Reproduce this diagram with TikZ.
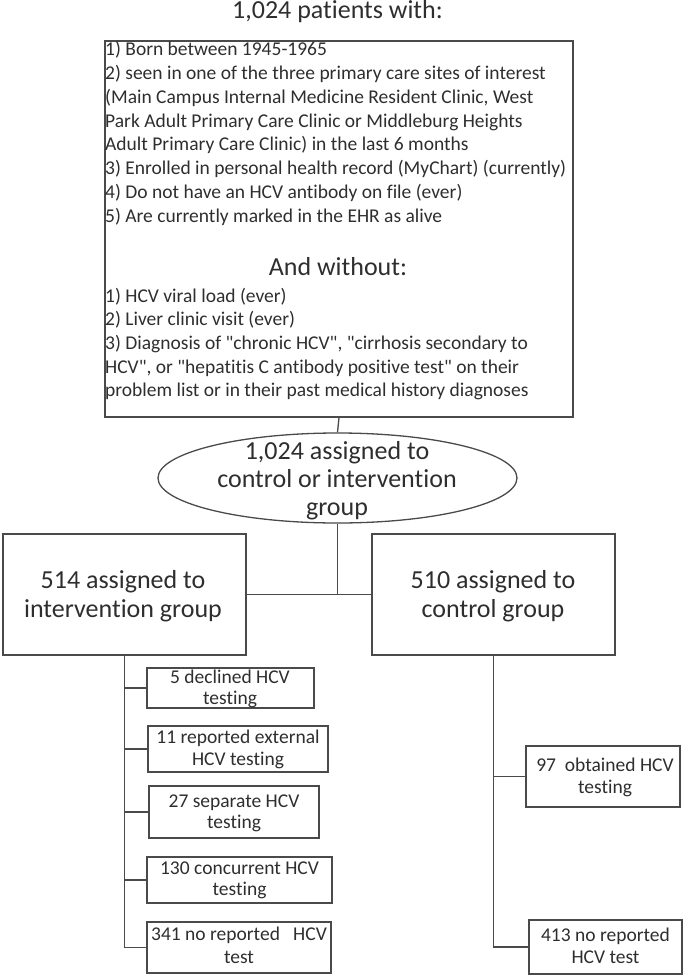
\documentclass[tikz,border=0pt]{standalone}
\usepackage{fontspec}
\setmainfont{Carlito}[Ligatures={TeXOff,NoCommon}]
\usetikzlibrary{shapes.geometric}
\definecolor{ln}{HTML}{4A4A4A}
\definecolor{tx}{HTML}{2E2E2E}
\begin{document}
\begin{tikzpicture}[x=1pt,y=-1pt,
  frame/.style={draw=ln, line width=1.3pt, rectangle, inner sep=0pt},
  oval/.style={draw=ln, line width=1.3pt, ellipse, inner sep=0pt},
  conn/.style={draw=ln, line width=1.3pt},
  body/.style={text=tx, inner sep=0pt, font=\fontsize{19.5}{23.9}\selectfont},
  big/.style={text=tx, inner sep=0pt, font=\fontsize{26}{30}\selectfont},
]
\useasboundingbox (0,0) rectangle (685,977);

% title
\node[big, anchor=base] (title) at (337.5,18) {1,024 patients with:};

% main box
\node[frame, minimum width=468pt, minimum height=376pt] (main) at (339,229) {};
\node[body, anchor=base west] (m1) at (105,55) {1) Born between 1945-1965};
\node[body, anchor=base west] (m2) at (105,79) {2) seen in one of the three primary care sites of interest};
\node[body, anchor=base west] (m3) at (105,103) {(Main Campus Internal Medicine Resident Clinic, West};
\node[body, anchor=base west] (m4) at (105,127) {Park Adult Primary Care Clinic or Middleburg Heights};
\node[body, anchor=base west] (m5) at (105,150) {Adult Primary Care Clinic) in the last 6 months};
\node[body, anchor=base west] (m6) at (105,174) {3) Enrolled in personal health record (MyChart) (currently)};
\node[body, anchor=base west] (m7) at (105,198) {4) Do not have an HCV antibody on file (ever)};
\node[body, anchor=base west] (m8) at (105,222) {5) Are currently marked in the EHR as alive};
\node[big, anchor=base] (andw) at (338,275) {And without:};
\node[body, anchor=base west] (w1) at (105,302) {1) HCV viral load (ever)};
\node[body, anchor=base west] (w2) at (105,325) {2) Liver clinic visit (ever)};
\node[body, anchor=base west] (w3) at (105,349) {3) Diagnosis of "chronic HCV", "cirrhosis secondary to};
\node[body, anchor=base west] (w4) at (105,373) {HCV", or "hepatitis C antibody positive test" on their};
\node[body, anchor=base west] (w5) at (105,396) {problem list or in their past medical history diagnoses};

% ellipse
\node[oval, minimum width=359pt, minimum height=90pt] (ell) at (337.5,478) {};
\node[big, anchor=base] (e1) at (337,459) {1,024 assigned to};
\node[big, anchor=base] (e2) at (337,487) {control or intervention};
\node[big, anchor=base] (e3) at (337,515) {group};

% group boxes
\node[frame, minimum width=243pt, minimum height=121pt] (intv) at (124.5,594.5) {};
\node[big, anchor=base] (i1) at (123,588) {514 assigned to};
\node[big, anchor=base] (i2) at (123,617) {intervention group};
\node[frame, minimum width=243pt, minimum height=121pt] (ctrl) at (493.5,594.5) {};
\node[big, anchor=base] (c1) at (493,588) {510 assigned to};
\node[big, anchor=base] (c2) at (493,617) {control group};

% intervention outcome boxes
\node[frame, minimum width=167pt, minimum height=40pt] (b1) at (230.5,688) {};
\node[body, anchor=base] (b1a) at (230,683) {5 declined HCV};
\node[body, anchor=base] (b1b) at (230,704) {testing};
\node[frame, minimum width=180pt, minimum height=46pt] (b2) at (238,749) {};
\node[body, anchor=base] (b2a) at (238,743) {11 reported external};
\node[body, anchor=base] (b2b) at (238,765) {HCV testing};
\node[frame, minimum width=170pt, minimum height=52pt] (b3) at (234,812) {};
\node[body, anchor=base] (b3a) at (234,807) {27 separate HCV};
\node[body, anchor=base] (b3b) at (234,828) {testing};
\node[frame, minimum width=185pt, minimum height=46pt] (b4) at (239.5,880) {};
\node[body, anchor=base] (b4a) at (239.5,874) {130 concurrent HCV};
\node[body, anchor=base] (b4b) at (239.5,895) {testing};
\node[frame, minimum width=184pt, minimum height=51pt] (b5) at (239,947.5) {};
\node[body, anchor=base] (b5a) at (239,940) {341 no reported\ \ \ HCV};
\node[body, anchor=base] (b5b) at (239,963) {test};

% control outcome boxes
\node[frame, minimum width=154pt, minimum height=61pt] (r1) at (603,776.5) {};
\node[body, anchor=base] (r1a) at (605,771) {97\ \ obtained HCV};
\node[body, anchor=base] (r1b) at (605,793) {testing};
\node[frame, minimum width=153pt, minimum height=54pt] (r2) at (605.5,947) {};
\node[body, anchor=base] (r2a) at (605.5,941) {413 no reported};
\node[body, anchor=base] (r2b) at (605.5,963) {HCV test};

% connectors
\coordinate (jn) at (ell.south |- intv.east);
\draw[conn] (main.south) -- (ell.north);
\draw[conn] (ell.south) -- (jn);
\draw[conn] (intv.east) -- (ctrl.west);

\draw[conn] (intv.south) -- (intv.south |- b5.west) -- (b5.west);
\draw[conn] (intv.south |- b1.west) -- (b1.west);
\draw[conn] (intv.south |- b2.west) -- (b2.west);
\draw[conn] (intv.south |- b3.west) -- (b3.west);
\draw[conn] (intv.south |- b4.west) -- (b4.west);

\draw[conn] (ctrl.south) -- (ctrl.south |- r2.west) -- (r2.west);
\draw[conn] (ctrl.south |- r1.west) -- (r1.west);
\end{tikzpicture}
\end{document}
